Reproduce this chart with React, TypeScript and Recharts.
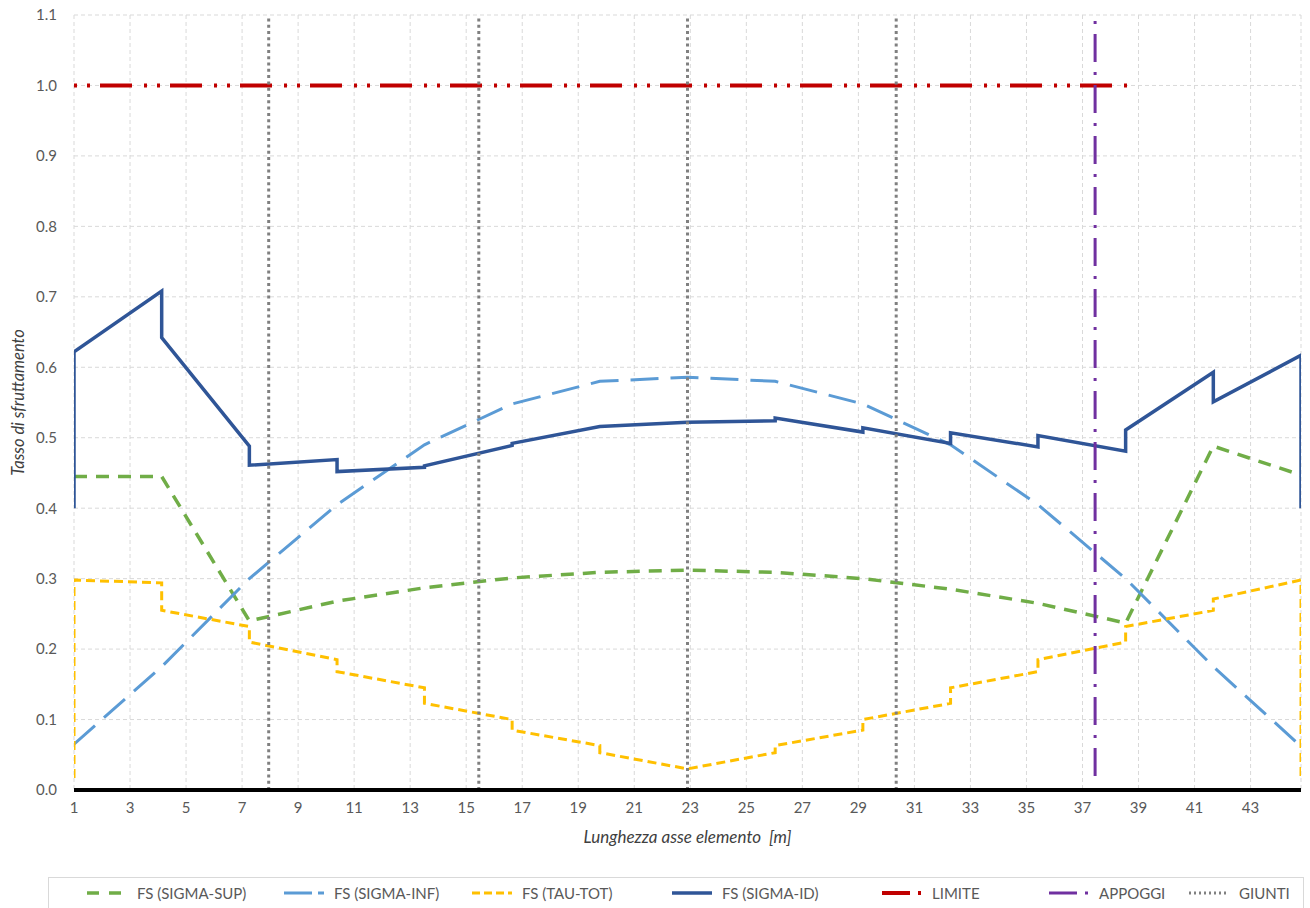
import React from "react";
import { LineChart, Line, XAxis, YAxis, CartesianGrid } from "recharts";

// element nodes along the axis [m]
const sigmaSupX = [1, 4.13, 7.26, 10.39, 13.51, 16.64, 19.77, 22.9, 26.03, 29.16, 32.29, 35.41, 38.54, 41.67, 44.8];
const sigmaSupY = [0.445, 0.445, 0.24, 0.268, 0.287, 0.301, 0.309, 0.312, 0.309, 0.3, 0.285, 0.265, 0.237, 0.488, 0.447];

const sigmaInfX = [1, 4.13, 7.26, 10.39, 13.51, 16.64, 19.77, 22.9, 26.03, 29.16, 32.29, 35.41, 38.54, 41.67, 44.8];
const sigmaInfY = [0.065, 0.175, 0.3, 0.405, 0.49, 0.548, 0.58, 0.586, 0.58, 0.548, 0.49, 0.405, 0.3, 0.175, 0.062];

const tauTotX = [1, 1, 4.13, 4.13, 7.26, 7.26, 10.39, 10.39, 13.51, 13.51, 16.64, 16.64, 19.77, 19.77, 22.9, 26.03, 26.03, 29.16, 29.16, 32.29, 32.29, 35.41, 35.41, 38.54, 38.54, 41.67, 41.67, 44.8, 44.8];
const tauTotY = [0.017, 0.298, 0.294, 0.255, 0.232, 0.21, 0.185, 0.168, 0.145, 0.123, 0.1, 0.085, 0.063, 0.053, 0.03, 0.053, 0.063, 0.085, 0.1, 0.123, 0.145, 0.168, 0.185, 0.21, 0.232, 0.255, 0.271, 0.298, 0.017];

const sigmaIdX = [1, 1, 4.13, 4.13, 7.26, 7.26, 10.39, 10.39, 13.51, 13.51, 16.64, 16.64, 19.77, 22.9, 26.03, 26.03, 29.16, 29.16, 32.29, 32.29, 35.41, 35.41, 38.54, 38.54, 41.67, 41.67, 44.8, 44.8];
const sigmaIdY = [0.4, 0.622, 0.708, 0.642, 0.488, 0.461, 0.469, 0.452, 0.458, 0.46, 0.489, 0.492, 0.516, 0.522, 0.524, 0.528, 0.508, 0.514, 0.492, 0.507, 0.487, 0.503, 0.481, 0.511, 0.593, 0.551, 0.617, 0.4];

const limiteX = [1, 38.9];
const limiteY = [1, 1];

const appoggiX = [37.45, 37.45];
const appoggiY = [0.02, 1.1];

const giuntiX = [7.95, 7.95, 7.95, 15.45, 15.45, 15.45, 22.9, 22.9, 22.9, 30.35, 30.35];
const giuntiY = [0, 1.1, null, 0, 1.1, null, 0, 1.1, null, 0, 1.1];

const xTicks = [1, 3, 5, 7, 9, 11, 13, 15, 17, 19, 21, 23, 25, 27, 29, 31, 33, 35, 37, 39, 41, 43];
const yTicks = [0, 0.1, 0.2, 0.3, 0.4, 0.5, 0.6, 0.7, 0.8, 0.9, 1.0, 1.1];

const zip = (xs: number[], ys: (number | null)[]) => xs.map((x, i) => ({ x, y: ys[i] }));

const series = [
  { name: "FS (SIGMA-SUP)", data: zip(sigmaSupX, sigmaSupY), color: "#70AD47", width: 3.5, dash: "13 9", legendDash: "12 10" },
  { name: "FS (SIGMA-INF)", data: zip(sigmaInfX, sigmaInfY), color: "#5B9BD5", width: 3, dash: "28 12", legendDash: "28 6 6 20" },
  { name: "FS (TAU-TOT)", data: zip(tauTotX, tauTotY), color: "#FFC000", width: 3, dash: "9 5", legendDash: "8 4" },
  { name: "FS (SIGMA-ID)", data: zip(sigmaIdX, sigmaIdY), color: "#2F5597", width: 3.5, dash: undefined, legendDash: undefined },
  { name: "LIMITE", data: zip(limiteX, limiteY), color: "#C00000", width: 4, dash: "3 10 3 10 32 12", legendDash: "28 8 3 20" },
  { name: "APPOGGI", data: zip(appoggiX, appoggiY), color: "#7030A0", width: 3, dash: "28 10 3 10", legendDash: "28 8 3 20" },
  { name: "GIUNTI", data: zip(giuntiX, giuntiY), color: "#808080", width: 3, dash: "3 3.3", legendDash: "2 3" },
];

const legendLeft = [86, 283, 471, 671, 881, 1048, 1188];

const font = "Lato, 'Open Sans', sans-serif";

export default function App() {
  return (
    <div style={{ position: "absolute", left: 0, top: 0, width: 1310, height: 908, background: "#fff", fontFamily: font }}>
      <LineChart width={1310} height={870} margin={{ top: 15, right: 9, left: 0, bottom: 20 }}>
        <CartesianGrid stroke="#d9d9d9" strokeDasharray="4 3" />
        <XAxis
          type="number"
          dataKey="x"
          domain={[1, 44.8]}
          ticks={xTicks}
          allowDataOverflow
          height={60}
          tickLine={false}
          tickSize={0}
          tickMargin={12}
          axisLine={{ stroke: "#000", strokeWidth: 4 }}
          tick={{ fontSize: 15, fill: "#595959", fontFamily: font }}
          label={{
            value: "Lunghezza asse elemento \u00a0[m]",
            position: "insideBottom",
            offset: 7,
            style: { fontSize: 17, fontStyle: "italic", fill: "#404040", fontFamily: font },
          }}
        />
        <YAxis
          type="number"
          domain={[0, 1.1]}
          ticks={yTicks}
          width={74}
          tickLine={false}
          tickSize={0}
          tickMargin={17}
          axisLine={false}
          tickFormatter={(v: number) => v.toFixed(1)}
          tick={{ fontSize: 15, fill: "#595959", fontFamily: font }}
          label={{
            value: "Tasso di sfruttamento",
            angle: -90,
            position: "insideLeft",
            offset: 18,
            style: { fontSize: 16.5, fontStyle: "italic", fill: "#404040", textAnchor: "middle", fontFamily: font },
          }}
        />
        {series.map((s) => (
          <Line
            key={s.name}
            name={s.name}
            data={s.data}
            dataKey="y"
            type="linear"
            stroke={s.color}
            strokeWidth={s.width}
            strokeDasharray={s.dash}
            dot={false}
            activeDot={false}
            isAnimationActive={false}
          />
        ))}
      </LineChart>
      <div
        style={{
          position: "absolute",
          left: 48,
          top: 877,
          width: 1256,
          height: 40,
          border: "1px solid #d9d9d9",
          boxSizing: "border-box",
        }}
      >
        {series.map((s, i) => (
          <div
            key={s.name}
            style={{ position: "absolute", left: legendLeft[i] - 48, top: 6, display: "flex", alignItems: "center", whiteSpace: "nowrap" }}
          >
            <svg width={40} height={10} style={{ marginRight: 10 }}>
              <line x1={0} y1={5} x2={40} y2={5} stroke={s.color} strokeWidth={s.width} strokeDasharray={s.legendDash} />
            </svg>
            <span style={{ fontSize: 15, color: "#595959" }}>{s.name}</span>
          </div>
        ))}
      </div>
    </div>
  );
}
